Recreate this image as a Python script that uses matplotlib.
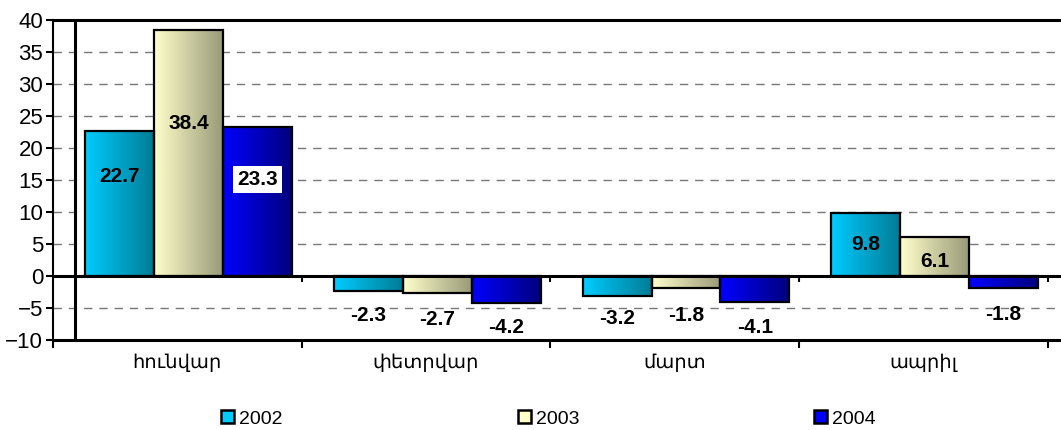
import numpy as np
import matplotlib
matplotlib.use("Agg")
import matplotlib.pyplot as plt
from matplotlib.colors import LinearSegmentedColormap
from matplotlib.patches import Rectangle

plt.rcParams['font.family'] = ['Liberation Sans', 'DejaVu Sans']

months = ["հունվար", "փետրվար", "մարտ", "ապրիլ"]
years = ["2002", "2003", "2004"]
v2002 = [22.7, -2.3, -3.2, 9.8]
v2003 = [38.4, -2.7, -1.8, 6.1]
v2004 = [23.3, -4.2, -4.1, -1.8]
series = [v2002, v2003, v2004]

# where the value labels sit (as placed in the original chart)
label_y = [
    [15.6, -6.1, -6.6, 4.9],
    [23.9, -6.8, -6.2, 2.2],
    [15.1, -8.0, -8.0, -6.0],
]

grad = [("#00CCFF", "#007C96"), ("#FFFFCC", "#9A9A78"), ("#0000FF", "#00007E")]
solid = ["#00CCFF", "#FFFFCC", "#0000FF"]

fig = plt.figure(figsize=(10.61, 4.30), dpi=100)
ax = fig.add_axes([53 / 1061, 1 - 340 / 430, 1 - 53 / 1061, 320 / 430])

x = np.arange(len(months))
w = 0.277
shift = 0.045
g = np.linspace(0, 1, 256).reshape(1, -1)

for i, vals in enumerate(series):
    cmap = LinearSegmentedColormap.from_list("g%d" % i, grad[i])
    for j, v in enumerate(vals):
        x0 = x[j] + shift + (i - 1) * w - w / 2
        ax.imshow(g, cmap=cmap, extent=(x0, x0 + w, min(0, v), max(0, v)),
                  aspect="auto", zorder=2, interpolation="bilinear")
        ax.add_patch(Rectangle((x0, 0), w, v, fill=False, edgecolor="black",
                               lw=1.6, zorder=3))
        box = None
        if i == 2 and j == 0:
            box = dict(facecolor="white", edgecolor="none", pad=3)
        ax.text(x0 + w / 2, label_y[i][j], "%.1f" % v, ha="center", va="center",
                fontsize=15, fontweight="bold", zorder=5, bbox=box)

ax.set_xlim(-0.5, 3.553)
ax.set_ylim(-10, 40)

ax.set_yticks(range(-10, 41, 5))
ax.tick_params(axis="y", labelsize=16, length=5, width=1.5, direction="out", pad=2)
for yv in range(-5, 40, 5):
    if yv != 0:
        ax.axhline(yv, color="#777777", lw=1, ls=(0, (6, 5)), zorder=1)
ax.axhline(0, color="black", lw=2.2, zorder=4)
ax.axvline(-0.412, color="black", lw=2.2, zorder=4)

bounds = np.arange(-0.5, 4, 1.0)
ax.vlines(bounds[1:], -1.0, 0, color="black", lw=1.5, zorder=4)
ax.set_xticks(bounds, minor=True)
ax.set_xticks(x)
ax.set_xticklabels(months, fontsize=14)
ax.tick_params(axis="x", which="major", length=0, pad=10)
ax.tick_params(axis="x", which="minor", length=6, width=1.5)

ax.spines["right"].set_visible(False)
ax.spines["top"].set_linewidth(2.2)
ax.spines["left"].set_linewidth(1.5)
ax.spines["bottom"].set_linewidth(2.2)

handles = [Rectangle((0, 0), 1, 1, facecolor=solid[k], edgecolor="black", lw=1.8)
           for k in range(3)]
fig.legend(handles, years, loc="center", bbox_to_anchor=(0.517, 0.026), ncol=3,
           frameon=False, fontsize=14, handlelength=0.67, handleheight=0.67,
           handletextpad=0.25, columnspacing=12.1, borderpad=0)

fig.savefig("out.png", dpi=100)
